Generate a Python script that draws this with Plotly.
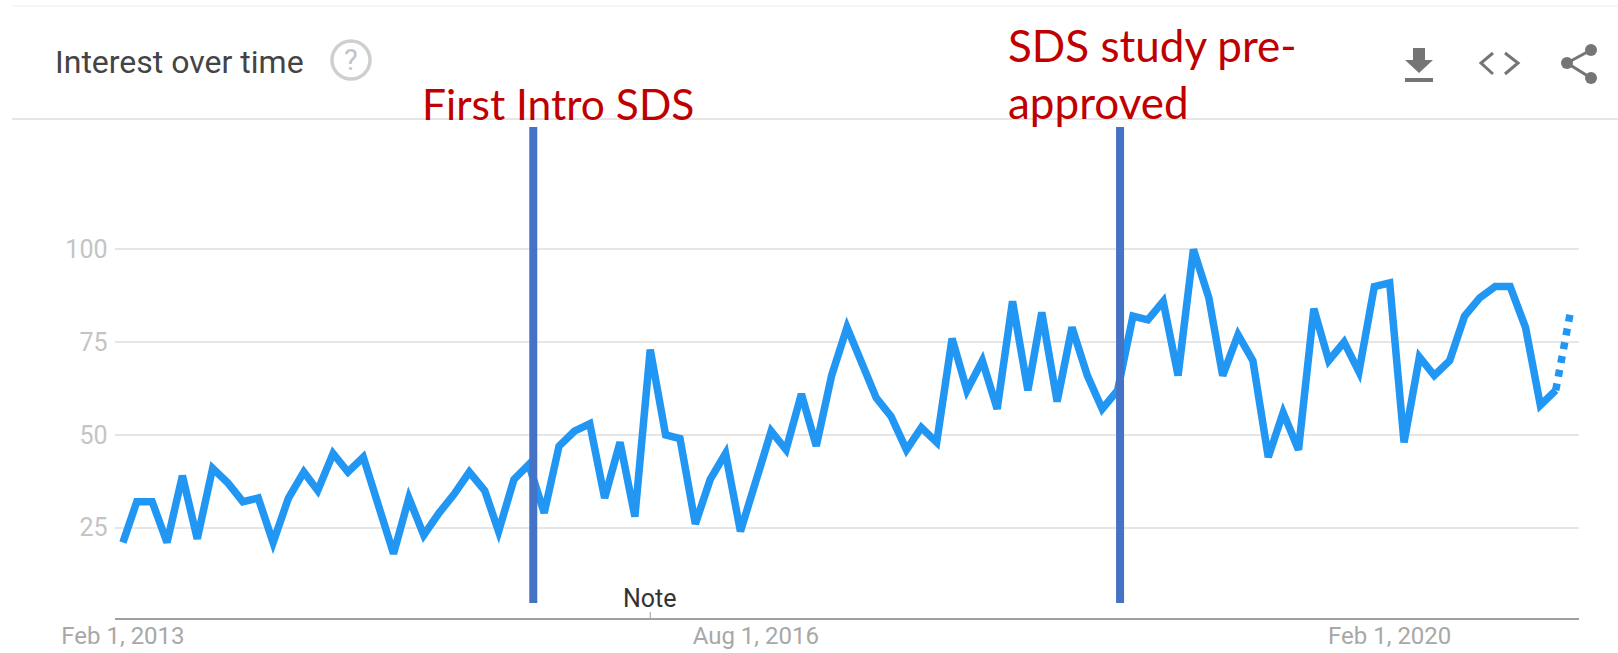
import pandas as pd
import plotly.graph_objects as go

W, H = 1618, 653

values = [21, 32, 32, 21, 39, 22, 41, 37, 32, 33, 21, 33, 40, 35, 45, 40, 44, 31, 18, 33,
          23, 29, 34, 40, 35, 24, 38, 42, 29, 47, 51, 53, 33, 48, 28, 73, 50, 49, 26, 38,
          45, 24, 38, 51, 46, 61, 47, 66, 79, 70, 60, 55, 46, 52, 48, 76, 62, 70, 57, 86,
          62, 83, 59, 79, 66, 57, 62, 82, 81, 86, 66, 100, 87, 66, 77, 70, 44, 56, 46, 84,
          70, 75, 67, 90, 91, 48, 71, 66, 70, 82, 87, 90, 90, 79, 58, 62, 84]
dates = pd.date_range("2013-02-01", periods=len(values), freq="MS")
solid_count = 96

y_ticks = [25, 50, 75, 100]
x_ticks = ["2013-02-01", "2016-08-01", "2020-02-01"]
x_tick_labels = ["Feb 1, 2013", "Aug 1, 2016", "Feb 1, 2020"]
event_dates = ["2015-05-10", "2018-08-06"]
note_date = "2016-01-01"

BLUE = "#2196f3"
MARK = "#4472c4"
RED = "#c00000"
GREY = "#757575"


def px(x):
    return x / W


def py(y):
    return 1 - y / H


def path(points, close=False):
    s = "M " + " L ".join(f"{px(x):.5f} {py(y):.5f}" for x, y in points)
    return s + (" Z" if close else "")


fig = go.Figure()
fig.add_trace(go.Scatter(x=dates[:solid_count], y=values[:solid_count], mode="lines",
                         line=dict(color=BLUE, width=7.5), hoverinfo="skip"))
fig.add_trace(go.Scatter(x=dates[solid_count - 1:], y=values[solid_count - 1:], mode="lines",
                         line=dict(color=BLUE, width=7.5, dash="7px,7px"), hoverinfo="skip"))

shapes = []
for d in event_dates:
    shapes.append(dict(type="line", xref="x", yref="y", x0=d, x1=d, y0=4.7, y1=133,
                       line=dict(color=MARK, width=8), layer="above"))
shapes.append(dict(type="line", xref="x", yref="paper", x0=note_date, x1=note_date,
                   y0=py(612), y1=py(619), line=dict(color="#9e9e9e", width=1)))
# header rules
shapes.append(dict(type="line", xref="paper", yref="paper", x0=px(12), x1=1, y0=py(6), y1=py(6),
                   line=dict(color="#f6f6f6", width=2)))
shapes.append(dict(type="line", xref="paper", yref="paper", x0=px(12), x1=1, y0=py(119), y1=py(119),
                   line=dict(color="#e6e6e6", width=2)))
# help circle
shapes.append(dict(type="circle", xref="paper", yref="paper", x0=px(332), x1=px(370), y0=py(79), y1=py(41),
                   line=dict(color="#cfcfcf", width=3.5)))
# download icon
shapes.append(dict(type="path", xref="paper", yref="paper", fillcolor=GREY, line=dict(width=0),
                   path=path([(1413, 48), (1425, 48), (1425, 60), (1433, 60), (1419, 73), (1405, 60), (1413, 60)], True)))
shapes.append(dict(type="path", xref="paper", yref="paper", fillcolor=GREY, line=dict(width=0),
                   path=path([(1405, 78), (1433, 78), (1433, 82), (1405, 82)], True)))
# code icon
for pts in ([(1493, 53), (1481, 63), (1493, 74)], [(1505, 53), (1518, 63), (1505, 74)]):
    shapes.append(dict(type="path", xref="paper", yref="paper", path=path(pts),
                       line=dict(color=GREY, width=3)))
# share icon
shapes.append(dict(type="path", xref="paper", yref="paper",
                   path=path([(1591, 50), (1567, 63), (1591, 78)]), line=dict(color=GREY, width=3)))
for cx, cy in [(1591, 50), (1567, 63), (1591, 78)]:
    shapes.append(dict(type="circle", xref="paper", yref="paper", fillcolor=GREY, line=dict(width=0),
                       x0=px(cx - 6), x1=px(cx + 6), y0=py(cy + 6), y1=py(cy - 6)))

annotations = [
    dict(text="Interest over time", xref="paper", yref="paper", x=px(52.5), y=py(62), xanchor="left",
         yanchor="middle", showarrow=False, font=dict(family="Roboto", size=32, color="#444444")),
    dict(text="?", xref="paper", yref="paper", x=px(351), y=py(60), xanchor="center", yanchor="middle",
         showarrow=False, font=dict(family="Roboto", size=29, color="#c4c4c4")),
    dict(text="First Intro SDS", xref="paper", yref="paper", x=px(420), y=py(103), xanchor="left",
         yanchor="middle", showarrow=False, font=dict(family="Lato", size=42.5, color=RED)),
    dict(text="SDS study pre-<br>approved", xref="paper", yref="paper", x=px(1006), y=py(73), xanchor="left",
         yanchor="middle", align="left", showarrow=False, font=dict(family="Lato", size=44, color=RED)),
    dict(text="Note", xref="x", yref="paper", x=note_date, y=py(598), xanchor="center", yanchor="middle",
         showarrow=False, font=dict(family="Roboto", size=25, color="#333333")),
]

fig.update_layout(
    width=W, height=H, margin=dict(l=0, r=0, t=0, b=0, pad=0), autosize=False,
    paper_bgcolor="white", plot_bgcolor="white", showlegend=False,
    shapes=shapes, annotations=annotations,
    xaxis=dict(type="date", domain=[px(114.5), px(1579)], range=["2013-01-15", "2021-02-17"],
               automargin=False, tickmode="array", tickvals=x_ticks, ticktext=x_tick_labels, showgrid=False,
               showline=True, linecolor="#a0a0a0", linewidth=2, ticks="", zeroline=False,
               ticklabelstandoff=-5,
               tickfont=dict(family="Roboto", size=24, color="#a8a8a8"), fixedrange=True),
    yaxis=dict(domain=[py(618.3), py(127)], range=[0.57, 133], tickmode="array", tickvals=y_ticks,
               automargin=False, showgrid=True, gridcolor="#e6e6e6", gridwidth=2, zeroline=False,
               showline=False, ticks="", ticklabelstandoff=6,
               tickfont=dict(family="Roboto", size=25, color="#c4c4c4"), fixedrange=True),
)

fig.write_html("out.html", config=dict(displayModeBar=False),
               post_script="document.body.style.margin='0';document.body.style.overflow='hidden';"
                           "document.querySelectorAll('.js-line').forEach(function(e){"
                           "e.style.strokeLinejoin='miter';e.style.strokeMiterlimit='3.5';});")
